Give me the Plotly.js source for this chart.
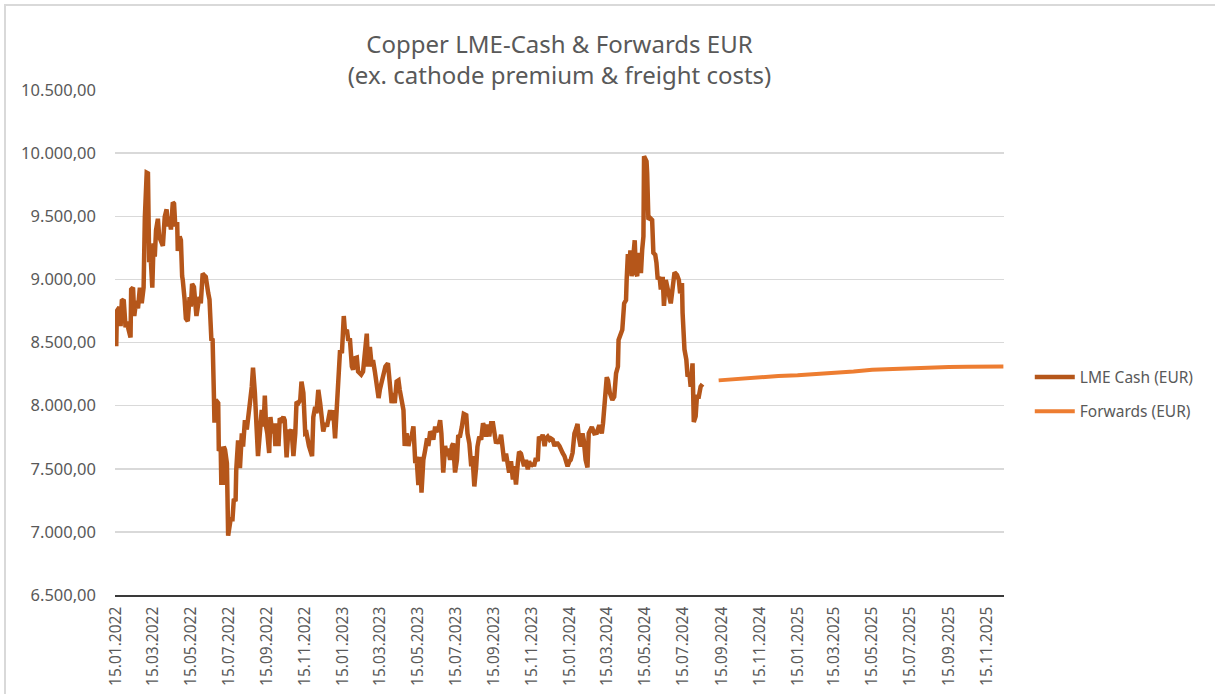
<!DOCTYPE html>
<html>
<head>
<meta charset="utf-8">
<script src="https://cdn.plot.ly/plotly-3.0.1.min.js"></script>
<style>
  html, body { margin: 0; padding: 0; background: #ffffff; overflow: hidden; }
  #frame { position: absolute; left: 4px; top: 4px; width: 1400px; height: 900px; border: 2px solid #d9d9d9; }
  #chart { position: absolute; left: 0; top: 0; width: 1215px; height: 694px; }
</style>
</head>
<body>
<div id="frame"></div>
<div id="chart"></div>
<script>
// LME Cash copper price in EUR
const lmeDates = [
  '2022-01-15','2022-01-16','2022-01-20','2022-01-22','2022-01-24','2022-01-27','2022-01-30','2022-02-01','2022-02-04','2022-02-07',
  '2022-02-08','2022-02-11','2022-02-13','2022-02-16','2022-02-19','2022-02-22','2022-02-25','2022-02-28','2022-03-02','2022-03-05',
  '2022-03-07','2022-03-09','2022-03-11','2022-03-14','2022-03-16','2022-03-18','2022-03-20','2022-03-23','2022-03-25','2022-03-28',
  '2022-03-31','2022-04-03','2022-04-06','2022-04-08','2022-04-10','2022-04-13','2022-04-16','2022-04-18','2022-04-20','2022-04-23',
  '2022-04-24','2022-04-27','2022-04-29','2022-05-01','2022-05-02','2022-05-05','2022-05-07','2022-05-10','2022-05-13','2022-05-15',
  '2022-05-17','2022-05-20','2022-05-22','2022-05-24','2022-05-27','2022-05-29','2022-05-31','2022-06-03','2022-06-05','2022-06-08',
  '2022-06-12','2022-06-14','2022-06-17','2022-06-19','2022-06-21','2022-06-22','2022-06-24','2022-06-28','2022-06-29','2022-07-02',
  '2022-07-03','2022-07-06','2022-07-07','2022-07-09','2022-07-12','2022-07-14','2022-07-18','2022-07-21','2022-07-23','2022-07-26',
  '2022-07-27','2022-07-30','2022-08-02','2022-08-05','2022-08-07','2022-08-10','2022-08-13','2022-08-16','2022-08-18','2022-08-21',
  '2022-08-23','2022-08-26','2022-08-29','2022-08-31','2022-09-03','2022-09-06','2022-09-09','2022-09-11','2022-09-13','2022-09-15',
  '2022-09-18','2022-09-20','2022-09-23','2022-09-26','2022-09-28','2022-09-30','2022-10-03','2022-10-05','2022-10-08','2022-10-11',
  '2022-10-13','2022-10-16','2022-10-19','2022-10-21','2022-10-24','2022-10-27','2022-10-30','2022-11-01','2022-11-04','2022-11-07',
  '2022-11-09','2022-11-12','2022-11-15','2022-11-17','2022-11-21','2022-11-23','2022-11-26','2022-11-28','2022-12-01','2022-12-03',
  '2022-12-06','2022-12-09','2022-12-11','2022-12-14','2022-12-17','2022-12-20','2022-12-22','2022-12-25','2022-12-28','2022-12-30',
  '2023-01-02','2023-01-05','2023-01-07','2023-01-10','2023-01-13','2023-01-16','2023-01-18','2023-01-21','2023-01-23','2023-01-26',
  '2023-01-29','2023-01-31','2023-02-03','2023-02-06','2023-02-08','2023-02-13','2023-02-16','2023-02-19','2023-02-22','2023-02-24',
  '2023-02-27','2023-03-02','2023-03-04','2023-03-07','2023-03-10','2023-03-13','2023-03-15','2023-03-18','2023-03-21','2023-03-24',
  '2023-03-28','2023-03-30','2023-04-03','2023-04-06','2023-04-08','2023-04-11','2023-04-14','2023-04-16','2023-04-19','2023-04-22',
  '2023-04-24','2023-04-27','2023-04-30','2023-05-02','2023-05-05','2023-05-08','2023-05-11','2023-05-13','2023-05-16','2023-05-19',
  '2023-05-21','2023-05-24','2023-05-27','2023-05-30','2023-06-01','2023-06-04','2023-06-06','2023-06-09','2023-06-12','2023-06-14',
  '2023-06-17','2023-06-20','2023-06-22','2023-06-25','2023-06-28','2023-07-01','2023-07-03','2023-07-06','2023-07-09','2023-07-11',
  '2023-07-14','2023-07-17','2023-07-19','2023-07-22','2023-07-25','2023-07-28','2023-08-01','2023-08-03','2023-08-06','2023-08-09',
  '2023-08-11','2023-08-14','2023-08-17','2023-08-19','2023-08-22','2023-08-25','2023-08-28','2023-08-30','2023-09-02','2023-09-05',
  '2023-09-07','2023-09-10','2023-09-13','2023-09-15','2023-09-18','2023-09-21','2023-09-23','2023-09-26','2023-09-29','2023-10-01',
  '2023-10-04','2023-10-07','2023-10-09','2023-10-12','2023-10-15','2023-10-17','2023-10-20','2023-10-23','2023-10-25','2023-10-28',
  '2023-10-31','2023-11-02','2023-11-05','2023-11-08','2023-11-10','2023-11-13','2023-11-16','2023-11-18','2023-11-21','2023-11-24',
  '2023-11-26','2023-11-29','2023-12-02','2023-12-05','2023-12-07','2023-12-10','2023-12-13','2023-12-15','2023-12-18','2023-12-21',
  '2023-12-23','2023-12-26','2023-12-29','2023-12-31','2024-01-03','2024-01-06','2024-01-08','2024-01-11','2024-01-14','2024-01-16',
  '2024-01-19','2024-01-22','2024-01-25','2024-01-27','2024-01-29','2024-02-01','2024-02-04','2024-02-06','2024-02-09','2024-02-12',
  '2024-02-14','2024-02-19','2024-02-23','2024-02-27','2024-03-02','2024-03-06','2024-03-08','2024-03-11','2024-03-14','2024-03-16',
  '2024-03-19','2024-03-23','2024-03-26','2024-03-29','2024-04-01','2024-04-02','2024-04-05','2024-04-08','2024-04-11','2024-04-14',
  '2024-04-15','2024-04-17','2024-04-19','2024-04-21','2024-04-23','2024-04-26','2024-04-28','2024-04-30','2024-05-02','2024-05-04',
  '2024-05-06','2024-05-08','2024-05-10','2024-05-12','2024-05-13','2024-05-17','2024-05-18','2024-05-20','2024-05-23','2024-05-26',
  '2024-05-28','2024-05-31','2024-06-02','2024-06-04','2024-06-07','2024-06-09','2024-06-12','2024-06-14','2024-06-17','2024-06-19',
  '2024-06-22','2024-06-25','2024-06-27','2024-07-01','2024-07-05','2024-07-08','2024-07-10','2024-07-13','2024-07-14','2024-07-17',
  '2024-07-20','2024-07-22','2024-07-25','2024-07-27','2024-07-30','2024-07-31','2024-08-01','2024-08-04','2024-08-06','2024-08-09',
  '2024-08-12','2024-08-15'
];
const lmeValues = [
  8470, 8750, 8780, 8630, 8830, 8840, 8620, 8665, 8600, 8540,
  8920, 8935, 8710, 8830, 8770, 8935, 8810, 8935, 9490, 9845,
  9840, 9135, 9210, 8935, 9285, 9180, 9390, 9480, 9340, 9310,
  9265, 9495, 9555, 9420, 9495, 9395, 9610, 9600, 9420, 9455,
  9225, 9340, 9310, 9025, 8995, 8840, 8690, 8670, 8860, 8785,
  8965, 8940, 8810, 8710, 8810, 8860, 8810, 9045, 9035, 9020,
  8890, 8840, 8525, 8520, 8100, 7865, 8045, 8020, 7640, 7675,
  7390, 7390, 7675, 7650, 7545, 6970, 7100, 7100, 7250, 7255,
  7490, 7725, 7505, 7780, 7675, 7885, 7810, 7990, 8020, 8150,
  8300, 8100, 7730, 7600, 7780, 7965, 7835, 8080, 7835, 7780,
  7625, 7910, 7780, 7860, 7680, 7860, 7680, 7900, 7885, 7910,
  7885, 7590, 7810, 7780, 7810, 7600, 7780, 8030, 8020, 8045,
  8190, 8100, 7780, 7785, 7680, 7650, 7600, 7910, 7990, 7940,
  8125, 8020, 7910, 7795, 7860, 7835, 7885, 7965, 7885, 7965,
  7740, 8045, 8255, 8440, 8415, 8710, 8580, 8600, 8525, 8520,
  8310, 8285, 8375, 8380, 8270, 8245, 8270, 8455, 8570, 8310,
  8465, 8310, 8360, 8270, 8180, 8060, 8125, 8190, 8270, 8310,
  8335, 8245, 8020, 8100, 8020, 8190, 8200, 8125, 8045, 7965,
  7680, 7780, 7680, 7730, 7755, 7835, 7545, 7595, 7370, 7595,
  7310, 7570, 7650, 7740, 7680, 7795, 7780, 7730, 7835, 7795,
  7810, 7885, 7780, 7470, 7680, 7600, 7660, 7570, 7680, 7700,
  7470, 7570, 7755, 7760, 7835, 7935, 7925, 7780, 7700, 7520,
  7600, 7360, 7520, 7675, 7755, 7730, 7860, 7835, 7755, 7850,
  7755, 7860, 7860, 7810, 7700, 7730, 7700, 7770, 7675, 7560,
  7620, 7545, 7470, 7560, 7415, 7520, 7375, 7545, 7635, 7620,
  7570, 7520, 7570, 7495, 7560, 7520, 7545, 7520, 7585, 7560,
  7755, 7730, 7770, 7680, 7740, 7755, 7730, 7740, 7730, 7680,
  7700, 7700, 7680, 7650, 7625, 7600, 7560, 7520, 7560, 7570,
  7625, 7780, 7820, 7855, 7755, 7675, 7780, 7730, 7570, 7510,
  7780, 7830, 7780, 7785, 7845, 7780, 7860, 8100, 8225, 8200,
  8100, 8045, 8070, 8255, 8310, 8520, 8570, 8600, 8810, 8835,
  8995, 9200, 9050, 9230, 9025, 9260, 9310, 9050, 9025, 9210,
  9075, 9050, 9235, 9340, 9975, 9935, 9840, 9475, 9485, 9470,
  9210, 9195, 9130, 9000, 9020, 8920, 9020, 8790, 8995, 8945,
  8840, 8810, 8890, 9055, 9035, 8995, 8890, 8970, 8735, 8445,
  8365, 8230, 8255, 8150, 8335, 8125, 7870, 7915, 8070, 8070,
  8150, 8170
];

// Forward curve in EUR
const fwdDates = [
  '2024-09-10','2024-10-15','2024-11-15','2024-12-15','2025-01-15','2025-02-15','2025-03-15','2025-04-15',
  '2025-05-15','2025-06-15','2025-07-15','2025-08-15','2025-09-15','2025-10-15','2025-11-15','2025-12-12'
];
const fwdValues = [
  8200, 8215, 8228, 8235, 8240, 8248, 8258, 8270,
  8285, 8292, 8298, 8302, 8306, 8308, 8309, 8310
];

// x axis tick dates (every 2 months on the 15th)
const tickDates = [
  '2022-01-15','2022-03-15','2022-05-15','2022-07-15','2022-09-15','2022-11-15',
  '2023-01-15','2023-03-15','2023-05-15','2023-07-15','2023-09-15','2023-11-15',
  '2024-01-15','2024-03-15','2024-05-15','2024-07-15','2024-09-15','2024-11-15',
  '2025-01-15','2025-03-15','2025-05-15','2025-07-15','2025-09-15','2025-11-15'
];

const FONT = "'Noto Sans', 'Open Sans', sans-serif";
const TEXT = '#595959';

const lmeTrace = {
  x: lmeDates,
  y: lmeValues,
  type: 'scatter',
  mode: 'lines',
  name: 'LME Cash (EUR)',
  legendgroup: 'lme',
  line: { color: '#B5561A', width: 4.5 }
};

const fwdTrace = {
  x: fwdDates,
  y: fwdValues,
  type: 'scatter',
  mode: 'lines',
  name: 'Forwards (EUR)',
  legendgroup: 'fwd',
  line: { color: '#ED7D31', width: 4 }
};

const layout = {
  width: 1215,
  height: 694,
  margin: { t: 90, r: 211, b: 99, l: 115 },
  paper_bgcolor: 'rgba(0,0,0,0)',
  plot_bgcolor: 'rgba(0,0,0,0)',
  separators: ',.',
  font: { family: FONT, color: TEXT, size: 15 },
  title: {
    text: 'Copper LME-Cash & Forwards EUR<br>(ex. cathode premium & freight costs)',
    font: { family: FONT, size: 24, color: TEXT },
    x: 0.5,
    xref: 'paper',
    xanchor: 'center',
    y: 0.924,
    yref: 'container',
    yanchor: 'top'
  },
  xaxis: {
    type: 'date',
    range: ['2022-01-13', '2025-12-13'],
    tickmode: 'array',
    tickvals: tickDates,
    tickformat: '%d.%m.%Y',
    tickangle: -90,
    showgrid: false,
    zeroline: false,
    showline: true,
    linecolor: '#3a3a3a',
    linewidth: 1.5,
    ticks: '',
    ticklabelstandoff: 4,
    tickfont: { family: FONT, size: 15.5, color: TEXT }
  },
  yaxis: {
    range: [6500, 10500],
    tickmode: 'linear',
    tick0: 6500,
    dtick: 500,
    tickformat: ',.2f',
    showgrid: true,
    gridcolor: '#d9d9d9',
    gridwidth: 1.5,
    zeroline: false,
    showline: false,
    ticks: '',
    ticklabelstandoff: 18,
    tickfont: { family: FONT, size: 16.5, color: TEXT }
  },
  showlegend: true,
  legend: {
    x: 1.029,
    xanchor: 'left',
    y: 0.397,
    yanchor: 'middle',
    traceorder: 'grouped',
    tracegroupgap: 11,
    itemwidth: 40,
    bgcolor: 'rgba(0,0,0,0)',
    font: { family: FONT, size: 15.5, color: TEXT }
  }
};

Plotly.newPlot('chart', [lmeTrace, fwdTrace], layout, { displayModeBar: false, staticPlot: true });
</script>
</body>
</html>
